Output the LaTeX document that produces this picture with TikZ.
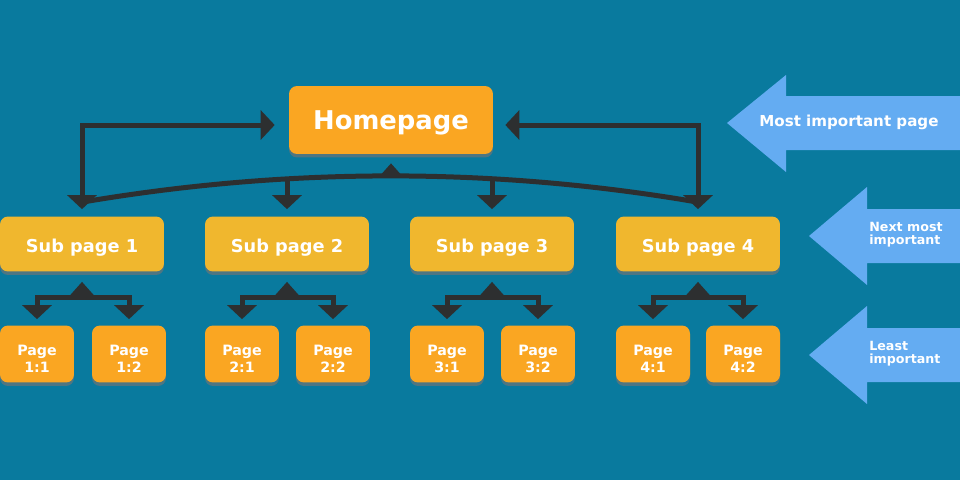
\documentclass[tikz,border=0pt]{standalone}
\usepackage{fontspec}
\setmainfont{DejaVu Sans}
\usetikzlibrary{arrows.meta,calc,shadows}
\definecolor{seablue}{RGB}{9,122,158}
\definecolor{homeorange}{RGB}{250,166,34}
\definecolor{subyellow}{RGB}{240,183,46}
\definecolor{boxshade}{RGB}{78,118,130}
\definecolor{wiregrey}{RGB}{45,47,48}
\definecolor{hintblue}{RGB}{100,172,242}
\begin{document}
\begin{tikzpicture}[x=0.02cm, y=-0.02cm,
  box/.style={rectangle, rounded corners=0.16cm, text=white, align=center, text depth=0pt,
    drop shadow={shadow xshift=0cm, shadow yshift=-0.07cm, fill=boxshade, opacity=1}},
  homebox/.style={box, fill=homeorange, minimum width=4.08cm, minimum height=1.36cm,
    text height=11.3pt, font=\fontsize{14.7}{17}\selectfont\bfseries},
  subbox/.style={box, fill=subyellow, minimum width=3.28cm, minimum height=1.1cm,
    text height=9.6pt, font=\fontsize{10.1}{12}\selectfont\bfseries},
  pagebox/.style={box, fill=homeorange, minimum width=1.48cm, minimum height=1.14cm,
    text height=21pt, font=\fontsize{8.1}{9.6}\selectfont\bfseries},
  wire/.style={draw=wiregrey, line width=0.1cm, >={Triangle[length=0.28cm, width=0.58cm]}},
  peak/.style={-{Triangle[length=0.28cm, width=0.48cm]}},
  hint/.style={text=white, anchor=west, inner sep=0pt, align=left,
    font=\fontsize{7.2}{7.6}\selectfont\bfseries}]
    % Hintergrund
    \useasboundingbox (0,0) rectangle (960,480);
    \fill[seablue] (0,0) rectangle (960,480);
    % Seiten
    \node[homebox] (home) at (391,120) {Homepage};
    \node[subbox] (sub1) at (82,244) {Sub page 1};
    \node[subbox] (sub2) at (287,244) {Sub page 2};
    \node[subbox] (sub3) at (492,244) {Sub page 3};
    \node[subbox] (sub4) at (698,244) {Sub page 4};
    \node[pagebox] (p11) at (37,354) {Page\\1:1};
    \node[pagebox] (p12) at (129,354) {Page\\1:2};
    \node[pagebox] (p21) at (242,354) {Page\\2:1};
    \node[pagebox] (p22) at (333,354) {Page\\2:2};
    \node[pagebox] (p31) at (447,354) {Page\\3:1};
    \node[pagebox] (p32) at (538,354) {Page\\3:2};
    \node[pagebox] (p41) at (653,354) {Page\\4:1};
    \node[pagebox] (p42) at (743,354) {Page\\4:2};
    % Homepage mit Unterseiten
    \draw[wire, <->, shorten <=0.14cm, shorten >=0.28cm] (sub1.north) |- ([yshift=-0.1cm]home.west);
    \draw[wire, <->, shorten <=0.14cm, shorten >=0.24cm] (sub4.north) |- ([yshift=-0.1cm]home.east);
    \coordinate (arcL) at ($(sub1.north)+(0,-14)$);
    \coordinate (arcR) at ($(sub4.north)+(0,-14)$);
    \draw[wire] (arcL) .. controls +(206,-35) and +(-204,-35) .. (arcR);
    \draw[wire, ->, shorten >=0.14cm] ($(sub2.north)+(0,-37)$) -- (sub2.north);
    \draw[wire, ->, shorten >=0.14cm] ($(sub3.north)+(0,-37)$) -- (sub3.north);
    \draw[wire, peak, shorten >=0.18cm] ($(home.south)+(0,23)$) -- (home.south);
    % Unterseiten mit Seiten
    \draw[wire, <->, shorten <=0.12cm, shorten >=0.12cm] (p11.north) -- ++(0,-28) -| (p12.north);
    \draw[wire, <->, shorten <=0.12cm, shorten >=0.12cm] (p21.north) -- ++(0,-28) -| (p22.north);
    \draw[wire, <->, shorten <=0.12cm, shorten >=0.12cm] (p31.north) -- ++(0,-28) -| (p32.north);
    \draw[wire, <->, shorten <=0.12cm, shorten >=0.12cm] (p41.north) -- ++(0,-28) -| (p42.north);
    \draw[wire, peak, shorten >=0.2cm] ($(sub1.south)+(0,26)$) -- (sub1.south);
    \draw[wire, peak, shorten >=0.2cm] ($(sub2.south)+(0,26)$) -- (sub2.south);
    \draw[wire, peak, shorten >=0.2cm] ($(sub3.south)+(0,26)$) -- (sub3.south);
    \draw[wire, peak, shorten >=0.2cm] ($(sub4.south)+(0,26)$) -- (sub4.south);
    % Pfeile rechts
    \fill[hintblue] (960,96) -- (786,96) -- (786,75) -- (727,123) -- (786,172) -- (786,150) -- (960,150) -- cycle;
    \node[hint, font=\fontsize{8.6}{10}\selectfont\bfseries] (most) at (759,122) {Most important page};
    \fill[hintblue] (960,209) -- (867,209) -- (867,187) -- (809,236) -- (867,285) -- (867,263) -- (960,263) -- cycle;
    \node[hint] (next) at (869,235) {Next most\\important};
    \fill[hintblue] (960,328) -- (867,328) -- (867,306) -- (809,355) -- (867,404) -- (867,382) -- (960,382) -- cycle;
    \node[hint] (least) at (869,354) {Least\\important};
\end{tikzpicture}
\end{document}
